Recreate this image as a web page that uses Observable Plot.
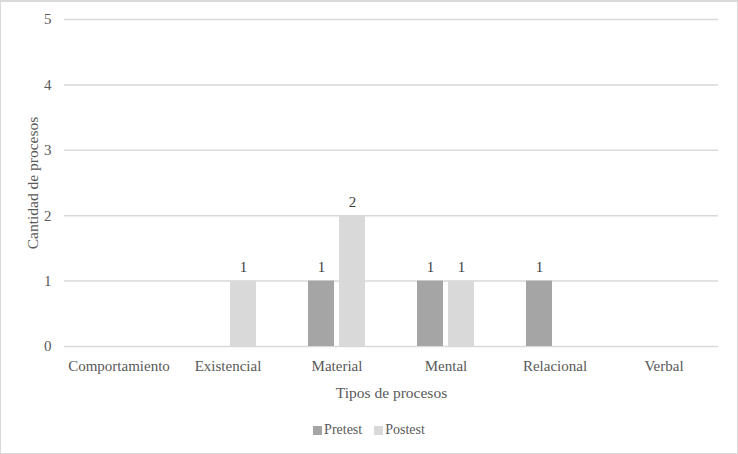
<!DOCTYPE html>
<html>
<head>
<meta charset="utf-8">
<script src="https://cdn.jsdelivr.net/npm/d3@7"></script>
<script src="https://cdn.jsdelivr.net/npm/@observablehq/plot@0.6"></script>
<style>
  html, body { margin: 0; padding: 0; background: #fff; }
  #frame { width: 738px; height: 454px; box-sizing: border-box; border: 1px solid #d9d9d9; border-top-width: 2px; overflow: hidden; position: relative; }
  #legend { position: absolute; left: 0; right: 0; top: 420px; display: flex; justify-content: center; gap: 12px; font-family: "Liberation Serif", serif; font-size: 14px; color: #595959; }
  #legend span.item { display: flex; align-items: center; gap: 2px; }
  #legend span.sw { display: inline-block; width: 9px; height: 9px; }
</style>
</head>
<body>
<div id="frame">
  <div id="chart"></div>
  <div id="legend"></div>
</div>
<script>
const categories = ["Comportamiento", "Existencial", "Material", "Mental", "Relacional", "Verbal"];
const series = ["Pretest", "Postest"];
const pretest = [0, 0, 1, 1, 1, 0];
const postest = [0, 1, 2, 1, 0, 0];
const yTicks = [0, 1, 2, 3, 4, 5];
const colors = ["#a5a5a5", "#d9d9d9"];
const xTitle = "Tipos de procesos";
const yTitle = "Cantidad de procesos";

const values = [pretest, postest];
const data = [];
categories.forEach((c, i) => {
  series.forEach((s, j) => {
    data.push({tipo: c, serie: s, valor: values[j][i]});
  });
});
const nonZero = data.filter(d => d.valor > 0);

const chart = Plot.plot({
  width: 736,
  height: 410,
  marginLeft: 63,
  marginRight: 19,
  marginTop: 17,
  marginBottom: 66,
  style: {fontFamily: "'Liberation Serif', 'Times New Roman', serif", color: "#595959", background: "#fff"},
  fx: {domain: categories, padding: 0, label: null},
  x: {domain: series, paddingInner: 0.17, paddingOuter: 0.84, axis: null},
  y: {domain: [0, 5], label: null},
  color: {domain: series, range: colors},
  marks: [
    Plot.ruleY(yTicks, {y: d => d, stroke: "#d9d9d9", strokeWidth: 1.5}),
    Plot.barY(data, {fx: "tipo", x: "serie", y: "valor", fill: "serie"}),
    Plot.text(nonZero, {fx: "tipo", x: "serie", y: "valor", text: d => String(d.valor), dy: -9, lineAnchor: "bottom", fontSize: 15, fill: "#404040"}),
    Plot.axisFx({anchor: "bottom", tickSize: 0, tickPadding: 14, fontSize: 15, label: null}),
    Plot.axisY(yTicks, {anchor: "left", tickSize: 0, tickPadding: 13, fontSize: 15, tickFormat: d => String(d), label: null}),
    Plot.text([xTitle], {facet: "super", frameAnchor: "bottom", dy: 51, text: d => d, fontSize: 15.5, fill: "#595959"}),
    Plot.text([yTitle], {facet: "super", frameAnchor: "left", textAnchor: "middle", dx: -31, rotate: -90, text: d => d, fontSize: 15.5, fill: "#595959"})
  ]
});
document.getElementById("chart").appendChild(chart);

const legend = document.getElementById("legend");
series.forEach((s, j) => {
  const item = document.createElement("span");
  item.className = "item";
  const sw = document.createElement("span");
  sw.className = "sw";
  sw.style.background = colors[j];
  item.appendChild(sw);
  const t = document.createElement("span");
  t.textContent = s;
  item.appendChild(t);
  legend.appendChild(item);
});
</script>
</body>
</html>
